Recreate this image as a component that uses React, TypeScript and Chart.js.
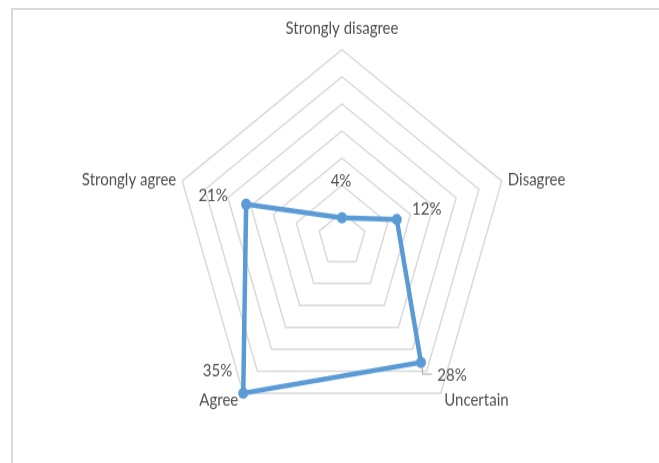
import React, { useEffect, useRef } from "react";
import { Chart, registerables } from "chart.js";

Chart.register(...registerables);

const categories = ["Strongly disagree", "Disagree", "Uncertain", "Agree", "Strongly agree"];
const values = [4, 12, 28, 35, 21];
const valueLabels = ["4%", "12%", "28%", "35%", "21%"];
const scaleMin = 0;
const scaleMax = 35;
const scaleStep = 5;

const SY = 1.13; // vertical stretch of the reference
const W = 659;
const H = 410;
const FONT = "15px Lato";
const TEXT = "#505050";
const LINE = "#5b9bd5";

const catLabelPos = [
  { dx: 0, dy: -21, align: "center" },
  { dx: 6, dy: -1, align: "left" },
  { dx: 3.5, dy: 6.5, align: "left" },
  { dx: -5, dy: 6.5, align: "right" },
  { dx: -6, dy: -1, align: "right" },
];
const valLabelPos = [
  { dx: -1, dy: -36.5 },
  { dx: 30, dy: -9.7 },
  { dx: 31, dy: 13.2 },
  { dx: -25.7, dy: -22.7 },
  { dx: -33, dy: -9 },
];

const labelsPlugin = {
  id: "customLabels",
  afterDatasetsDraw(chart: any) {
    const ctx = chart.ctx;
    const scale = chart.scales.r;
    const dist = scale.getDistanceFromCenterForValue(scaleMax);
    ctx.save();
    ctx.font = FONT;
    ctx.fillStyle = TEXT;
    ctx.textBaseline = "middle";
    categories.forEach((c, i) => {
      const p = scale.getPointPosition(i, dist);
      const o = catLabelPos[i];
      ctx.textAlign = o.align;
      ctx.fillText(c, p.x + o.dx, p.y + o.dy / SY);
    });
    const meta = chart.getDatasetMeta(0);
    ctx.textAlign = "center";
    meta.data.forEach((pt: any, i: number) => {
      const o = valLabelPos[i];
      ctx.fillText(valueLabels[i], pt.x + o.dx, pt.y + o.dy / SY);
    });
    // leader line for 28%
    const u = meta.data[2];
    ctx.strokeStyle = "#a6a6a6";
    ctx.lineWidth = 1;
    ctx.beginPath();
    ctx.moveTo(u.x + 1.4, u.y + 3.7 / SY);
    ctx.lineTo(u.x + 1.4, u.y + 11.7 / SY);
    ctx.lineTo(u.x + 10.7, u.y + 11.7 / SY);
    ctx.stroke();
    ctx.restore();
  },
};

export default function App() {
  const ref = useRef<HTMLCanvasElement>(null);
  useEffect(() => {
    if (!ref.current) return;
    const chart = new Chart(ref.current, {
      type: "radar",
      data: {
        labels: categories,
        datasets: [
          {
            data: values,
            borderColor: LINE,
            backgroundColor: LINE,
            borderWidth: 4.5,
            pointRadius: 5,
            pointBackgroundColor: LINE,
            pointBorderColor: LINE,
            pointBorderWidth: 0,
            fill: false,
          },
        ],
      },
      options: {
        responsive: false,
        animation: false,
        devicePixelRatio: 1,
        layout: { padding: { left: 174, right: 149, top: 44, bottom: 30 } },
        plugins: { legend: { display: false }, tooltip: { enabled: false } },
        scales: {
          r: {
            min: scaleMin,
            max: scaleMax,
            ticks: { display: false, stepSize: scaleStep },
            angleLines: { display: false },
            grid: { color: "#d9d9d9", lineWidth: 1.5 },
            pointLabels: { display: false },
          },
        },
      },
      plugins: [labelsPlugin],
    });
    return () => chart.destroy();
  }, []);
  return (
    <div style={{ position: "fixed", left: 0, top: 0, width: 659, height: 463, overflow: "hidden", background: "#fff" }}>
      <div
        style={{
          position: "absolute",
          left: 11,
          top: 8,
          width: 700,
          height: 500,
          border: "2px solid #d9d9d9",
          boxSizing: "border-box",
        }}
      />
      <canvas
        ref={ref}
        width={W}
        height={H}
        style={{
          position: "absolute",
          left: 0,
          top: 0,
          width: W,
          height: H,
          transform: `scaleY(${SY})`,
          transformOrigin: "0 0",
        }}
      />
    </div>
  );
}
